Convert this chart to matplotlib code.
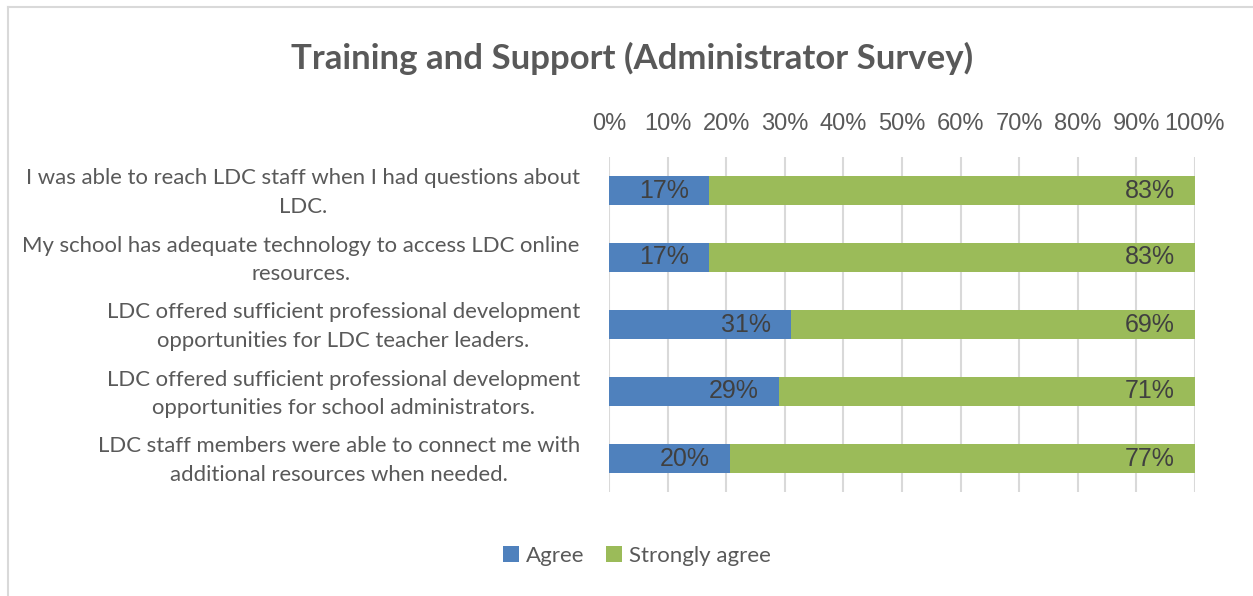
"""Training and Support (Administrator Survey) - 100% stacked bar chart."""

import matplotlib
matplotlib.use("Agg")
import matplotlib.pyplot as plt
import matplotlib.transforms as mtransforms
from matplotlib.lines import Line2D
import numpy as np

CATEGORIES = [
    "I was able to reach LDC staff when I had questions about\nLDC.",
    "My school has adequate technology to access LDC online\nresources.",
    "LDC offered sufficient professional development\nopportunities for LDC teacher leaders.",
    "LDC offered sufficient professional development\nopportunities for school administrators.",
    "LDC staff members were able to connect me with\nadditional resources when needed.",
]
AGREE = [17, 17, 31, 29, 20]
STRONGLY_AGREE = [83, 83, 69, 71, 77]
SERIES = ["Agree", "Strongly agree"]
XTICKS = list(range(0, 101, 10))

BLUE = "#4F81BD"
GREEN = "#9BBB59"
TEXT = "#595959"
LABEL = "#404040"
GRID = "#D9D9D9"

W, H = 1253, 596
fig = plt.figure(figsize=(W / 100, H / 100), dpi=100)
ax = fig.add_axes([609 / W, 1 - 492 / H, (1195 - 609) / W, (492 - 157) / H])

agree = np.array(AGREE, dtype=float)
strong = np.array(STRONGLY_AGREE, dtype=float)
total = agree + strong
agree_pct = agree / total * 100
strong_pct = strong / total * 100
y = np.arange(len(CATEGORIES))

b1 = ax.barh(y, agree_pct, height=0.42, color=BLUE, label=SERIES[0], zorder=3)
b2 = ax.barh(y, strong_pct, left=agree_pct, height=0.42, color=GREEN, label=SERIES[1], zorder=3)

# data labels at the inside end of each segment
for i in range(len(CATEGORIES)):
    for end, val in ((agree_pct[i], AGREE[i]), (agree_pct[i] + strong_pct[i], STRONGLY_AGREE[i])):
        ax.annotate(f"{val}%", xy=(end, y[i]), xytext=(-20, 0), textcoords="offset pixels",
                    ha="right", va="center", fontsize=18, color=LABEL,
                    family="Liberation Sans", zorder=4)

ax.set_xlim(0, 100)
ax.set_ylim(len(CATEGORIES) - 0.5, -0.5)
ax.set_xticks(XTICKS)
ax.set_xticklabels([f"{t}%" for t in XTICKS], fontsize=17, color=TEXT, family="Liberation Sans")
ax.xaxis.tick_top()
ax.tick_params(axis="x", length=0, pad=15.5)
ax.set_yticks(y)
ax.set_yticklabels(CATEGORIES, fontsize=15.9, color=TEXT, family="Lato",
                   multialignment="center", linespacing=1.55)
ax.tick_params(axis="y", length=0, pad=21)
shift = mtransforms.ScaledTranslation(0, 4 / 100, fig.dpi_scale_trans)
for lbl in ax.get_yticklabels():
    lbl.set_transform(lbl.get_transform() + shift)
ax.grid(axis="x", color=GRID, linewidth=1.5, zorder=0)
for s in ax.spines.values():
    s.set_visible(False)

fig.text(632 / W, 1 - 58 / H, "Training and Support (Administrator Survey)", ha="center", va="center",
         fontsize=25, fontweight="bold", color=TEXT, family="Lato")

fig.legend(handles=[b1, b2], labels=SERIES, loc="center", bbox_to_anchor=(637 / W, 1 - 556 / H),
           ncol=2, frameon=False, handlelength=0.7, handleheight=0.7,
           handletextpad=0.3, columnspacing=1.0, labelcolor=TEXT, prop={"family": "Lato", "size": 16})

# chart-area border (left and top visible)
fig.add_artist(Line2D([8 / W, 8 / W], [0, 1 - 7 / H], color=GRID, linewidth=1.5))
fig.add_artist(Line2D([8 / W, 1], [1 - 7 / H, 1 - 7 / H], color=GRID, linewidth=1.5))

fig.savefig("out.png", dpi=100, facecolor="white")
